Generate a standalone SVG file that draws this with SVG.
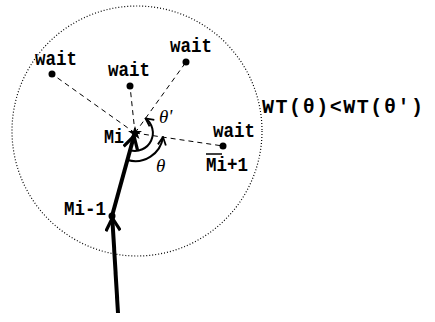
<svg xmlns="http://www.w3.org/2000/svg" width="435" height="322" viewBox="0 0 435 322">
<style>
.t{font-family:"Liberation Mono",monospace;font-size:20px;font-weight:bold;fill:#000}
.g{font-family:"Liberation Serif",serif;font-size:19px;font-style:italic;fill:#000}
.dash{stroke:#000;stroke-width:1;stroke-dasharray:5 4;fill:none}
.thick{stroke:#000;stroke-width:4;fill:none}
.arc{stroke:#000;stroke-width:2;fill:none}
.dot{fill:#000}
</style>
<defs>
<marker id="chev" viewBox="0 0 10 10" refX="9" refY="5" markerWidth="4" markerHeight="4" orient="auto" markerUnits="strokeWidth">
<path d="M1,0.5 L9,5 L1,9.5" fill="none" stroke="#000" stroke-width="2"/>
</marker>
<marker id="chevs" viewBox="0 0 10 10" refX="9" refY="5" markerWidth="5" markerHeight="5" orient="auto" markerUnits="strokeWidth">
<path d="M1,1 L9,5 L1,9" fill="none" stroke="#000" stroke-width="1.8"/>
</marker>
</defs>
<circle cx="137" cy="131" r="125" fill="none" stroke="#000" stroke-width="1.2" stroke-dasharray="1 2"/>
<g id="connectors">
<line class="dash" x1="135" y1="133" x2="52" y2="74"/>
<line class="dash" x1="135" y1="133" x2="130" y2="86"/>
<line class="dash" x1="135" y1="133" x2="186" y2="62"/>
<line class="dash" x1="135" y1="133" x2="223" y2="146"/>
<line class="thick" x1="118" y1="313" x2="112.3" y2="218" marker-end="url(#chev)"/>
<line class="thick" x1="112" y1="216" x2="134" y2="136" marker-end="url(#chev)"/>
<path class="arc" d="M130.2,150.3 A18,18 0 0 0 145.5,118.4" marker-end="url(#chevs)"/>
<path class="arc" d="M127.5,160 A28,28 0 0 0 163,137" marker-end="url(#chevs)"/>
</g>
<g id="node-mi">
<polygon points="135,126 136.8,131 142,131 137.8,134 139.4,139 135,136 130.6,139 132.2,134 128,131 133.2,131" fill="#000"/>
<text class="t" x="104" y="143" textLength="20" lengthAdjust="spacingAndGlyphs">Mi</text>
</g>
<g id="node-mi-1">
<circle class="dot" cx="112" cy="216" r="3.5"/>
<text class="t" x="64" y="215" textLength="42" lengthAdjust="spacingAndGlyphs">Mi-1</text>
</g>
<g id="node-wait1">
<circle class="dot" cx="52" cy="74" r="3.5"/>
<text class="t" x="35" y="65" textLength="42" lengthAdjust="spacingAndGlyphs">wait</text>
</g>
<g id="node-wait2">
<circle class="dot" cx="130" cy="86" r="3.5"/>
<text class="t" x="108" y="76" textLength="42" lengthAdjust="spacingAndGlyphs">wait</text>
</g>
<g id="node-wait3">
<circle class="dot" cx="186" cy="62" r="3.5"/>
<text class="t" x="170" y="52" textLength="42" lengthAdjust="spacingAndGlyphs">wait</text>
</g>
<g id="node-wait4">
<circle class="dot" cx="223" cy="146" r="3.5"/>
<text class="t" x="213" y="137" textLength="42" lengthAdjust="spacingAndGlyphs">wait</text>
<text class="t" x="206" y="171" textLength="42" lengthAdjust="spacingAndGlyphs">Mi+1</text>
<line x1="206" y1="154" x2="222" y2="154" stroke="#000" stroke-width="1.5"/>
</g>
<g id="labels">
<text class="g" x="156" y="172">θ</text>
<text class="g" x="159" y="123">θ'</text>
<text class="t" x="262" y="113" textLength="161" lengthAdjust="spacing">WT(θ)&lt;WT(θ')</text>
</g>
</svg>
